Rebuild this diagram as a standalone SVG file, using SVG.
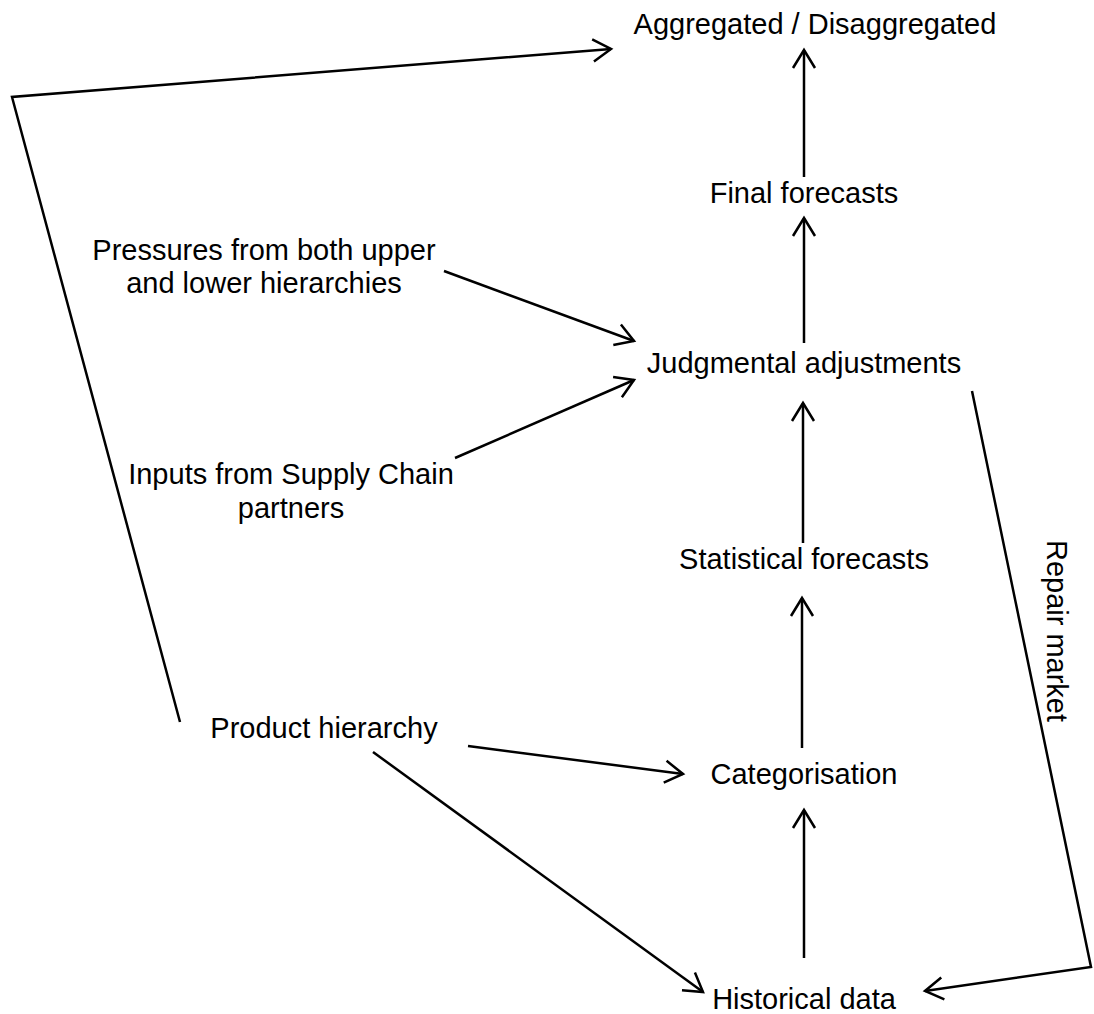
<svg xmlns="http://www.w3.org/2000/svg" width="1094" height="1014" viewBox="0 0 1094 1014">
  <style>
    .lbl { font-family: "Liberation Sans", Arial, sans-serif; font-size: 29px; fill: #000; text-anchor: middle; }
    .edge { fill: none; stroke: #000; stroke-width: 2.5; marker-end: url(#head); }
  </style>
  <defs>
    <marker id="head" viewBox="-21 -13 24 26" refX="0" refY="0" markerWidth="24" markerHeight="26" markerUnits="userSpaceOnUse" orient="auto">
      <path d="M-18,-11 L0,0 L-18,11" fill="none" stroke="#000" stroke-width="2.5"/>
    </marker>
  </defs>
  <rect width="1094" height="1014" fill="#fff"/>

  <!-- connectors -->
  <g id="connectors">
    <line class="edge" x1="804" y1="177" x2="804" y2="50"/>
    <line class="edge" x1="804" y1="343" x2="804" y2="218"/>
    <line class="edge" x1="803" y1="543" x2="803" y2="403"/>
    <line class="edge" x1="802" y1="748" x2="802" y2="598"/>
    <line class="edge" x1="804" y1="958" x2="804" y2="810"/>
    <line class="edge" x1="444" y1="271" x2="634" y2="341"/>
    <line class="edge" x1="455" y1="458" x2="634" y2="380"/>
    <line class="edge" x1="468" y1="746" x2="683" y2="774"/>
    <line class="edge" x1="373" y1="752" x2="703" y2="992"/>
    <polyline class="edge" points="180,722 12,97 611,49"/>
    <polyline class="edge" points="972,391 1091,967 925,991"/>
    <text class="lbl" transform="translate(1047,631) rotate(90)">Repair market</text>
  </g>

  <!-- nodes -->
  <g id="aggregated"><text class="lbl" x="815" y="34">Aggregated / Disaggregated</text></g>
  <g id="final"><text class="lbl" x="804" y="203">Final forecasts</text></g>
  <g id="judgmental"><text class="lbl" x="804" y="373">Judgmental adjustments</text></g>
  <g id="statistical"><text class="lbl" x="804" y="569">Statistical forecasts</text></g>
  <g id="categorisation"><text class="lbl" x="804" y="784">Categorisation</text></g>
  <g id="historical"><text class="lbl" x="804" y="1009">Historical data</text></g>
  <g id="product"><text class="lbl" x="324" y="738">Product hierarchy</text></g>
  <g id="pressures">
    <text class="lbl" x="264" y="260">Pressures from both upper</text>
    <text class="lbl" x="264" y="293">and lower hierarchies</text>
  </g>
  <g id="inputs">
    <text class="lbl" x="291" y="484">Inputs from Supply Chain</text>
    <text class="lbl" x="291" y="518">partners</text>
  </g>
</svg>
